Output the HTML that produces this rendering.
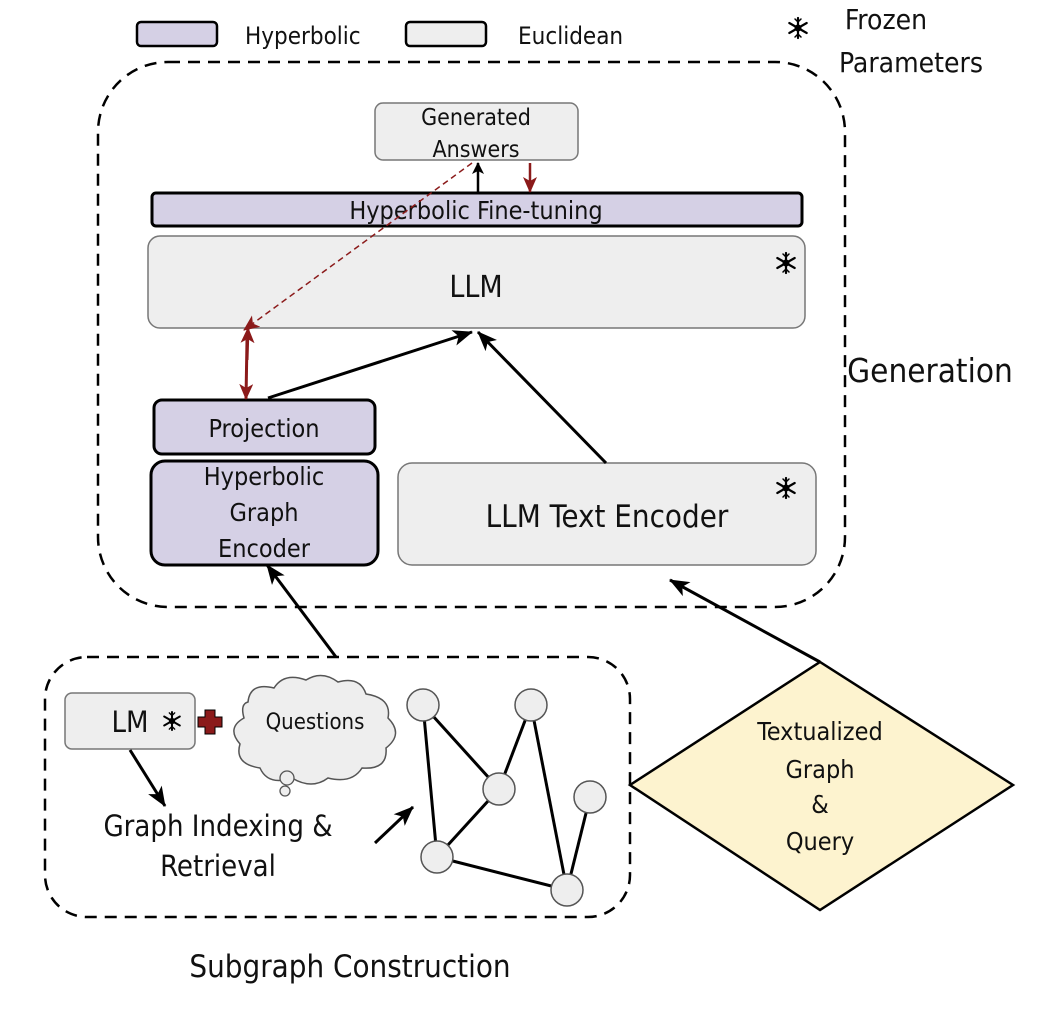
<!DOCTYPE html>
<html><head><meta charset="utf-8"><style>
html,body{margin:0;padding:0;background:#fff;}
svg{display:block;}
text{font-family:"DejaVu Sans Condensed","Liberation Sans",sans-serif;fill:#111;}
</style></head><body>
<svg width="1040" height="1010" viewBox="0 0 1040 1010" xmlns="http://www.w3.org/2000/svg">
<defs>
<marker id="ab" markerWidth="12" markerHeight="12" refX="11" refY="6" orient="auto" markerUnits="userSpaceOnUse" viewBox="0 0 12 12"><path d="M0,0 L12,6 L0,12 L3,6 z" fill="#000"/></marker>
<marker id="abig" markerWidth="20" markerHeight="16" refX="19" refY="8" orient="auto" markerUnits="userSpaceOnUse" viewBox="0 0 20 16"><path d="M0,0 L20,8 L0,16 L5,8 z" fill="#000"/></marker>
<marker id="ar" markerWidth="16" markerHeight="14" refX="15" refY="7" orient="auto" markerUnits="userSpaceOnUse" viewBox="0 0 16 14"><path d="M0,0 L16,7 L0,14 L4,7 z" fill="#8b1a1a"/></marker>
<g id="snow" stroke="#000" stroke-width="2.2" stroke-linecap="round">
<line x1="0" y1="-10" x2="0" y2="10"/><line x1="-8.7" y1="-5" x2="8.7" y2="5"/><line x1="-8.7" y1="5" x2="8.7" y2="-5"/>
<circle r="3.5" fill="#000" stroke="none"/>
<path d="M-3,-9 L0,-6 L3,-9 M-3,9 L0,6 L3,9" fill="none" stroke-width="1.5"/>
</g>
</defs>
<!-- legend -->
<rect x="137" y="22" width="80" height="24" rx="4" fill="#d5d0e5" stroke="#000" stroke-width="2.5"/>
<text x="245" y="44" font-size="24">Hyperbolic</text>
<rect x="406" y="22" width="80" height="24" rx="4" fill="#eee" stroke="#000" stroke-width="2.5"/>
<text x="518" y="44" font-size="24">Euclidean</text>
<use href="#snow" transform="translate(798,28)"/>
<text x="886" y="29" font-size="28" text-anchor="middle">Frozen</text>
<text x="911" y="72" font-size="28" text-anchor="middle">Parameters</text>
<!-- generation container -->
<rect x="98" y="62" width="747" height="545" rx="70" fill="none" stroke="#000" stroke-width="2.5" stroke-dasharray="12,8"/>
<rect x="375" y="103" width="203" height="57" rx="8" fill="#eee" stroke="#777" stroke-width="1.5"/>
<text x="476" y="125" font-size="23" text-anchor="middle" font-family="Liberation Sans">Generated</text>
<text x="476" y="157" font-size="23" text-anchor="middle" font-family="Liberation Sans">Answers</text>
<rect x="152" y="193" width="650" height="33" rx="4" fill="#d5d0e5" stroke="#000" stroke-width="3"/>
<text x="476" y="219" font-size="25" text-anchor="middle">Hyperbolic Fine-tuning</text>
<rect x="148" y="236" width="657" height="92" rx="12" fill="#eee" stroke="#777" stroke-width="1.5"/>
<text x="476" y="297" font-size="30" text-anchor="middle">LLM</text>
<use href="#snow" transform="translate(786,263)"/>
<text x="930" y="382" font-size="33" text-anchor="middle">Generation</text>
<rect x="154" y="400" width="221" height="54" rx="8" fill="#d5d0e5" stroke="#000" stroke-width="3"/>
<text x="264" y="437" font-size="25" text-anchor="middle">Projection</text>
<rect x="151" y="461" width="227" height="104" rx="14" fill="#d5d0e5" stroke="#000" stroke-width="3"/>
<text x="264" y="485" font-size="25" text-anchor="middle">Hyperbolic</text>
<text x="264" y="521" font-size="25" text-anchor="middle">Graph</text>
<text x="264" y="557" font-size="25" text-anchor="middle">Encoder</text>
<rect x="398" y="463" width="418" height="102" rx="14" fill="#eee" stroke="#777" stroke-width="1.5"/>
<text x="607" y="527" font-size="31" text-anchor="middle">LLM Text Encoder</text>
<use href="#snow" transform="translate(786,488)"/>
<!-- arrows gen -->
<line x1="478" y1="192" x2="478" y2="163" stroke="#000" stroke-width="2.5" marker-end="url(#ab)"/>
<line x1="530" y1="163" x2="530" y2="192" stroke="#8b1a1a" stroke-width="2.5" marker-end="url(#ar)"/>
<line x1="472" y1="163" x2="244" y2="330" stroke="#8b1a1a" stroke-width="1.5" stroke-dasharray="6,4" marker-end="url(#ar)"/>
<line x1="247" y1="360" x2="248" y2="328" stroke="#8b1a1a" stroke-width="3" marker-end="url(#ar)"/>
<line x1="247" y1="340" x2="246" y2="399" stroke="#8b1a1a" stroke-width="3" marker-end="url(#ar)"/>
<line x1="268" y1="398" x2="472" y2="332" stroke="#000" stroke-width="3" marker-end="url(#abig)"/>
<line x1="606" y1="463" x2="478" y2="332" stroke="#000" stroke-width="3" marker-end="url(#abig)"/>
<line x1="336" y1="657" x2="267" y2="565" stroke="#000" stroke-width="3" marker-end="url(#abig)"/>
<line x1="820" y1="662" x2="670" y2="580" stroke="#000" stroke-width="3" marker-end="url(#abig)"/>
<!-- diamond -->
<polygon points="630,785 820,662 1013,785 820,910" fill="#fdf3cf" stroke="#000" stroke-width="2.5"/>
<text x="820" y="740" font-size="25" text-anchor="middle">Textualized</text>
<text x="820" y="778" font-size="25" text-anchor="middle">Graph</text>
<text x="820" y="813" font-size="25" text-anchor="middle">&amp;</text>
<text x="820" y="850" font-size="25" text-anchor="middle">Query</text>
<!-- subgraph container -->
<rect x="45" y="657" width="585" height="260" rx="42" fill="none" stroke="#000" stroke-width="2.5" stroke-dasharray="12,8"/>
<rect x="65" y="693" width="130" height="56" rx="7" fill="#eee" stroke="#777" stroke-width="1.5"/>
<text x="130" y="732" font-size="29" text-anchor="middle">LM</text>
<use href="#snow" transform="translate(172,721) scale(0.9)"/>
<path d="M205,710 h10 v7 h7 v10 h-7 v7 h-10 v-7 h-7 v-10 h7 z" fill="#8b1a1a" stroke="#000" stroke-width="1"/>
<path d="M248,702 q2,-20 26,-14 q10,-16 32,-8 q16,-10 32,2 q22,-6 28,12 q26,4 22,24 q16,16 -2,30 q2,22 -24,20 q-10,16 -34,10 q-16,12 -36,0 q-24,8 -32,-10 q-26,-4 -20,-24 q-14,-16 4,-26 q-4,-14 4,-16 z" fill="#eee" stroke="#555" stroke-width="1.5"/>
<circle cx="287" cy="778" r="7" fill="#eee" stroke="#555" stroke-width="1.3"/>
<circle cx="285" cy="791" r="5" fill="#eee" stroke="#555" stroke-width="1.3"/>
<text x="315" y="729" font-size="22" text-anchor="middle">Questions</text>
<line x1="130" y1="750" x2="165" y2="806" stroke="#000" stroke-width="3" marker-end="url(#abig)"/>
<text x="218" y="836" font-size="29" text-anchor="middle">Graph Indexing &amp;</text>
<text x="218" y="876" font-size="29" text-anchor="middle">Retrieval</text>
<line x1="375" y1="843" x2="413" y2="807" stroke="#000" stroke-width="3" marker-end="url(#abig)"/>
<g stroke="#000" stroke-width="3">
<line x1="423" y1="705" x2="499" y2="789"/><line x1="423" y1="705" x2="437" y2="857"/>
<line x1="531" y1="705" x2="499" y2="789"/><line x1="499" y1="789" x2="437" y2="857"/>
<line x1="437" y1="857" x2="567" y2="890"/><line x1="531" y1="705" x2="567" y2="890"/>
<line x1="590" y1="797" x2="567" y2="890"/>
</g>
<g fill="#eee" stroke="#555" stroke-width="1.5">
<circle cx="423" cy="705" r="16"/><circle cx="531" cy="705" r="16"/><circle cx="499" cy="789" r="16"/>
<circle cx="590" cy="797" r="16"/><circle cx="437" cy="857" r="16"/><circle cx="567" cy="890" r="16"/>
</g>
<text x="350" y="977" font-size="31" text-anchor="middle">Subgraph Construction</text>
</svg>
</body></html>
